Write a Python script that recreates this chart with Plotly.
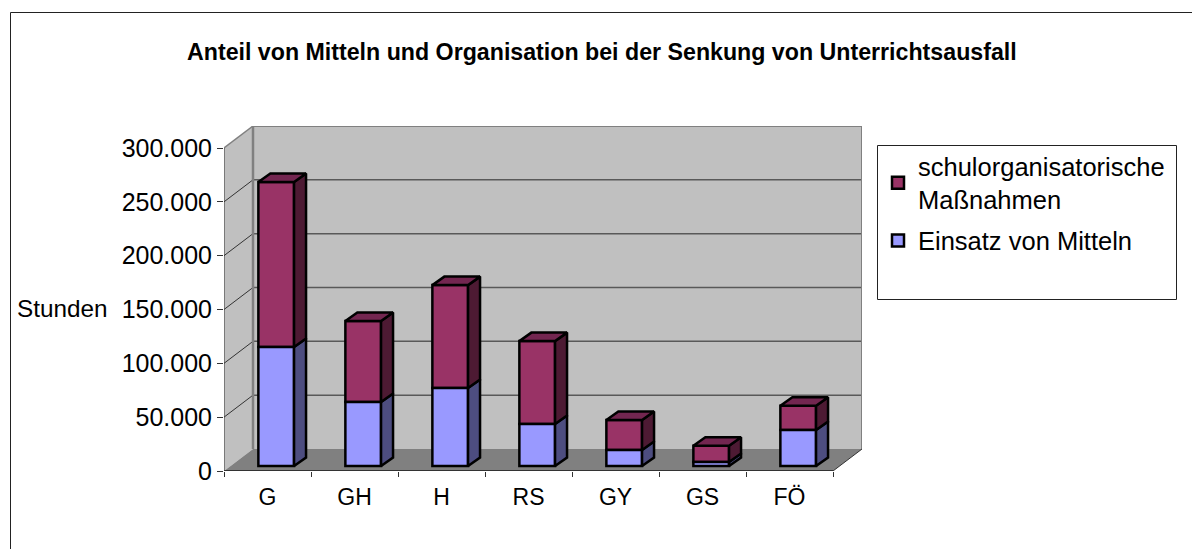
import plotly.graph_objects as go

categories = ["G", "GH", "H", "RS", "GY", "GS", "FÖ"]
mittel = [110500, 59400, 72400, 39000, 14900, 3700, 33400]
organisation = [153300, 75300, 95600, 77000, 27800, 15200, 22600]
y_ticks = [0, 50000, 100000, 150000, 200000, 250000, 300000]
y_labels = ["0", "50.000", "100.000", "150.000", "200.000", "250.000", "300.000"]

W, H = 1192, 549
# pixel frame of the front plane
X0, X1, Y0, Y300 = 224.0, 833.0, 471.0, 148.0
PX_X = (X1 - X0) / len(categories)      # px per category
PX_Y = (Y0 - Y300) / 300000.0           # px per unit
WALL_DX, WALL_DY = 29.0 / PX_X, 22.0 / PX_Y
BAR_DX, BAR_DY = 12.0 / PX_X, 8.5 / PX_Y
BAR_SHIFT = 8.7 / PX_X
BAR_BASE = 5.0 / PX_Y
BAR_W = 0.41
EDGE = 2.5

x_lo, x_hi = -0.5, len(categories) - 0.5
y_max = 300000
xr = [x_lo, x_hi + WALL_DX]
yr = [0, y_max + WALL_DY]
dom_x = [X0 / W, (X1 + 29) / W]
dom_y = [1 - Y0 / H, 1 - (Y300 - 22) / H]

MAROON, MAROON_SIDE, MAROON_TOP = "#993366", "#4D1A33", "#732650"
BLUE, BLUE_SIDE, BLUE_TOP = "#9999FF", "#4D4D80", "#7373BF"
WALL, FLOOR = "#C0C0C0", "#808080"

fig = go.Figure()


def face(xs, ys, color):
    fig.add_trace(go.Scatter(x=xs, y=ys, mode="lines", fill="toself", fillcolor=color,
                             line=dict(color="black", width=EDGE), showlegend=False, hoverinfo="skip"))


positions = [i + BAR_SHIFT for i in range(len(categories))]
bases1 = [BAR_BASE] * len(categories)
bases2 = [BAR_BASE + m for m in mittel]

fig.add_trace(go.Bar(x=positions, y=organisation, base=bases2, width=BAR_W, name="schulorganisatorische<br>Maßnahmen",
                     legendgroup="a", marker=dict(color=MAROON, line=dict(color="black", width=EDGE))))
fig.add_trace(go.Bar(x=positions, y=mittel, base=bases1, width=BAR_W, name="Einsatz von Mitteln",
                     legendgroup="b", marker=dict(color=BLUE, line=dict(color="black", width=EDGE))))

for p, b, m, o in zip(positions, bases1, mittel, organisation):
    r = p + BAR_W / 2
    l = p - BAR_W / 2
    mid = b + m
    top = mid + o
    face([r, r + BAR_DX, r + BAR_DX, r, r], [b, b + BAR_DY, mid + BAR_DY, mid, b], BLUE_SIDE)
    face([r, r + BAR_DX, r + BAR_DX, r, r], [mid, mid + BAR_DY, top + BAR_DY, top, mid], MAROON_SIDE)
    face([l, l + BAR_DX, r + BAR_DX, r, l], [top, top + BAR_DY, top + BAR_DY, top, top], MAROON_TOP)

shapes = []


def poly(pts, fill=None, color=None, width=0):
    path = "M " + " L ".join(f"{a},{b}" for a, b in pts) + " Z"
    shapes.append(dict(type="path", path=path, xref="x", yref="y", layer="below", fillcolor=fill,
                       line=dict(color=color, width=width)))


def seg(a, b, c, d, color, width):
    shapes.append(dict(type="line", x0=a, y0=b, x1=c, y1=d, xref="x", yref="y", layer="below",
                       line=dict(color=color, width=width)))


xb0, xb1 = x_lo + WALL_DX, x_hi + WALL_DX
poly([(xb0, WALL_DY), (xb1, WALL_DY), (xb1, y_max + WALL_DY), (xb0, y_max + WALL_DY)], WALL)
poly([(x_lo, 0), (xb0, WALL_DY), (xb0, y_max + WALL_DY), (x_lo, y_max)], WALL)
poly([(x_lo, 0), (x_hi, 0), (xb1, WALL_DY), (xb0, WALL_DY)], FLOOR)
for t in y_ticks[1:-1]:
    seg(xb0, t + WALL_DY, xb1, t + WALL_DY, "#595959", 1.5)
    seg(x_lo, t, xb0, t + WALL_DY, "#333333", 1)
seg(xb0, WALL_DY, xb0, y_max + WALL_DY, FLOOR, 2.5)
seg(xb0, y_max + WALL_DY, xb1, y_max + WALL_DY, FLOOR, 2)
seg(xb1, WALL_DY, xb1, y_max + WALL_DY, FLOOR, 2)
seg(x_lo, y_max, xb0, y_max + WALL_DY, FLOOR, 1.5)
seg(x_hi, 0, xb1, WALL_DY, "#333333", 1)
seg(x_lo, 0, x_hi, 0, "#333333", 2)
seg(x_lo, 0, x_lo, y_max, "#333333", 1)

# chart and legend frames, in page pixels
for px0, py0, px1, py1 in [(10.5, 12.5, 1300, 700), (877.5, 145.5, 1176.5, 299.5)]:
    shapes.append(dict(type="rect", xref="paper", yref="paper", x0=px0 / W, x1=px1 / W,
                       y0=1 - py1 / H, y1=1 - py0 / H, line=dict(color="#222222", width=1), layer="below"))

fig.update_layout(
    width=W, height=H, autosize=False, showlegend=True, barmode="overlay",
    paper_bgcolor="white", plot_bgcolor="rgba(0,0,0,0)",
    margin=dict(l=0, r=0, t=0, b=0, autoexpand=False),
    font=dict(family="Liberation Sans", color="black", size=24),
    xaxis=dict(domain=dom_x, range=xr, showgrid=False, zeroline=False, showline=False,
               tickmode="array", tickvals=list(range(len(categories))), ticktext=categories,
               ticks="", ticklen=0, tickfont=dict(size=23), ticklabelstandoff=10,
               minor=dict(tickmode="array", tickvals=[x_lo + i for i in range(len(categories) + 1)],
                          ticks="outside", ticklen=5, tickcolor="#333333", tickwidth=1, showgrid=False)),
    yaxis=dict(domain=dom_y, range=yr, showgrid=False, zeroline=False, showline=False,
               tickmode="array", tickvals=y_ticks, ticktext=y_labels, ticks="outside", ticklen=6,
               tickcolor="#333333", tickfont=dict(size=25), ticklabelstandoff=0),
    legend=dict(x=878 / W, y=1 - 143 / H, xanchor="left", yanchor="top", bgcolor="rgba(0,0,0,0)",
                font=dict(size=25.5), itemclick=False, traceorder="grouped", tracegroupgap=5),
    shapes=shapes,
    annotations=[
        dict(text="<b>Anteil von Mitteln und Organisation bei der Senkung von Unterrichtsausfall</b>",
             xref="paper", yref="paper", x=602 / W, y=1 - 52 / H, xanchor="center", yanchor="middle",
             showarrow=False, font=dict(size=23.2)),
        dict(text="Stunden", xref="paper", yref="paper", x=62 / W, y=1 - 308 / H, xanchor="center",
             yanchor="middle", showarrow=False, font=dict(size=24.3)),
    ],
)
fig.write_html("out.html", post_script="document.body.style.margin='0';", config=dict(displayModeBar=False))
